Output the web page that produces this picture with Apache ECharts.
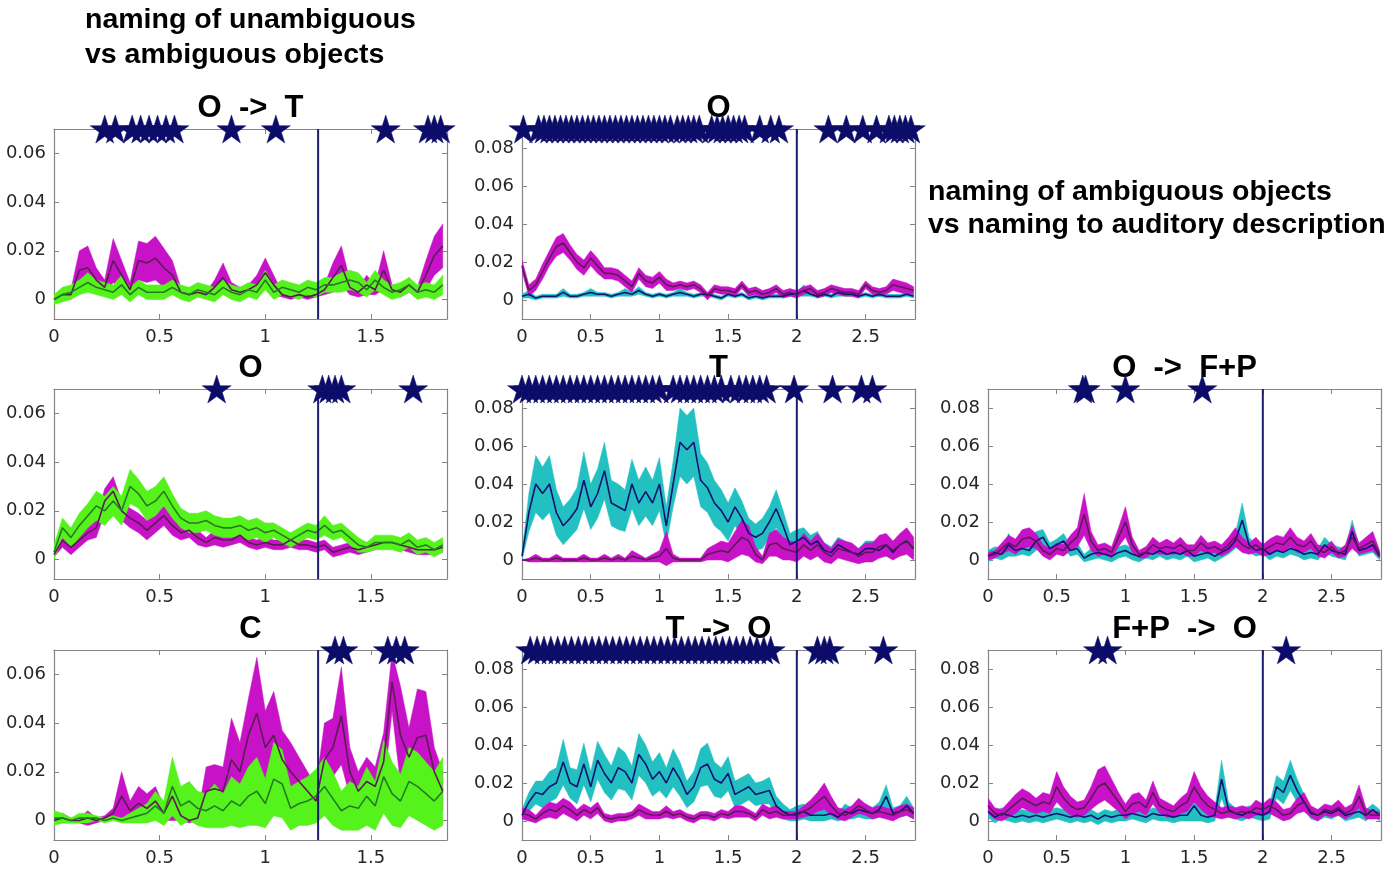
<!DOCTYPE html>
<html>
<head>
<meta charset="utf-8">
<script src="https://cdn.jsdelivr.net/npm/echarts@6/dist/echarts.min.js"></script>
<style>
html, body { margin: 0; padding: 0; background: #fff; }
#chart { width: 1400px; height: 871px; }
</style>
</head>
<body>
<div id="chart"></div>
<script>
// time axes (s)
var timeShort = [0, 0.04, 0.08, 0.12, 0.16, 0.2, 0.24, 0.28, 0.32, 0.36, 0.4, 0.44, 0.48, 0.52, 0.56, 0.6, 0.64, 0.68, 0.72, 0.76,
	0.8, 0.84, 0.88, 0.92, 0.96, 1, 1.04, 1.08, 1.12, 1.16, 1.2, 1.24, 1.28, 1.32, 1.36, 1.4, 1.44, 1.48, 1.52, 1.56,
	1.6, 1.64, 1.68, 1.72, 1.76, 1.8, 1.84];
var timeLong = [0, 0.05, 0.1, 0.15, 0.2, 0.25, 0.3, 0.35, 0.4, 0.45, 0.5, 0.55, 0.6, 0.65, 0.7, 0.75, 0.8, 0.85, 0.9, 0.95,
	1, 1.05, 1.1, 1.15, 1.2, 1.25, 1.3, 1.35, 1.4, 1.45, 1.5, 1.55, 1.6, 1.65, 1.7, 1.75, 1.8, 1.85, 1.9, 1.95,
	2, 2.05, 2.1, 2.15, 2.2, 2.25, 2.3, 2.35, 2.4, 2.45, 2.5, 2.55, 2.6, 2.65, 2.7, 2.75, 2.8, 2.85];

// all values below in thousandths (mean and half width of the band)
// O -> T
var otMag = [0,2,2,12,13,8,5,16,10,4, 16,15,17,13,10,3,2,3,2,5, 9,4,3,4,6,11,6,2,1,2, 1,2,4,9,14,5,3,6,4,12, 4,3,6,3,10,18,22];
var otMagErr = [1,1,2,8,9,5,3,9,6,3, 8,8,9,8,6,2,1,2,1,3, 6,3,2,2,4,6,4,1,1,1, 1,1,2,6,8,3,2,4,2,8, 2,2,3,2,6,8,9];
var otGrn = [0,2,3,5,7,5,4,3,6,2, 5,3,3,3,5,3,2,4,3,2, 5,3,2,4,3,8,3,5,4,3, 5,4,6,6,7,8,7,4,8,5, 3,4,6,3,4,3,6];
var otGrnErr = [2,3,3,3,4,3,3,3,4,3, 3,3,3,3,3,3,3,3,3,3, 3,3,3,3,3,4,3,3,3,3, 3,3,3,3,4,4,4,3,4,3, 3,3,3,3,3,3,4];
var otStars = [0.24, 0.29, 0.37, 0.41, 0.45, 0.49, 0.53, 0.57, 0.84, 1.05, 1.57, 1.77, 1.8, 1.83];

// O (unambiguous vs ambiguous)
var oaMag = [2,8,5,8,11,13,24,28,20,17, 15,12,15,18,14,11,12,9,7,9, 8,8,10,7,6,7,6,6,8,6, 6,5,6,3,4,5,4,5,6,7, 7,6,5,4,4,4,5];
var oaMagErr = [1,3,3,3,3,4,5,6,4,4, 4,4,4,4,4,3,3,3,2,3, 3,2,3,2,2,2,2,2,3,2, 2,2,2,2,2,2,2,2,2,2, 2,2,2,2,2,2,2];
var oaGrn = [3,13,9,14,18,22,20,24,20,30, 27,22,24,28,22,17,15,15,16,14, 13,13,14,12,13,11,12,10,8,10, 12,11,14,11,12,9,6,5,7,7, 7,6,8,5,6,4,6];
var oaGrnErr = [3,4,4,5,5,6,6,6,6,7, 6,6,6,6,5,4,4,4,4,4, 4,4,4,4,4,4,3,3,3,3, 3,3,4,3,3,3,3,2,3,3, 3,3,3,3,3,3,3];
var oaStars = [0.77, 1.27, 1.3, 1.33, 1.36, 1.7];

// C
var cMag = [0,1,0,0,1,0,1,3,10,4, 7,5,8,3,10,2,0,1,12,13, 12,25,20,35,44,30,35,25,20,16, 12,8,25,30,43,20,12,16,14,24, 57,35,26,34,35,20,12];
var cMagErr = [1,2,1,1,3,1,1,2,10,4, 7,6,6,3,10,2,1,1,10,10, 10,17,12,15,23,15,18,12,12,10, 8,6,15,12,20,10,8,10,8,12, 12,20,12,20,18,10,8];
var cGrn = [1,1,0,1,1,1,0,1,0,1, 2,3,6,3,14,6,8,5,4,6, 4,8,6,10,12,7,17,15,5,7, 8,10,14,9,4,6,5,10,6,18, 11,8,16,14,11,8,12];
var cGrnErr = [3,2,1,2,2,1,1,1,1,2, 3,4,6,5,12,8,8,7,7,9, 7,10,9,12,14,10,15,14,9,9, 10,11,12,11,8,10,9,12,10,15, 13,11,14,14,13,12,14];
var cStars = [1.33, 1.37, 1.58, 1.62, 1.66];

// O (ambiguous vs auditory description)
var obMag = [18,5,8,15,22,28,30,25,20,17, 22,18,14,14,13,10,7,14,10,9, 12,8,7,8,7,8,6,2,6,5, 5,4,8,4,5,3,4,6,3,4, 3,5,6,3,4,6,5,4,4,3, 8,5,4,5,8,7,6,5];
var obMagErr = [3,3,3,4,4,5,5,4,4,4, 4,4,3,3,3,3,3,3,3,3, 3,3,2,2,2,2,2,2,2,2, 2,2,2,2,2,2,2,2,2,2, 2,2,2,2,2,2,2,2,2,2, 2,2,2,2,3,3,3,2];
var obCyn = [2,3,1,2,2,2,4,2,2,3, 4,3,3,2,3,4,3,5,3,2, 3,2,3,4,3,2,3,3,2,1, 3,2,3,1,2,1,2,2,2,3, 3,5,3,2,3,2,4,3,3,2, 3,2,3,2,2,2,3,2];
var obCynErr = [1,2,1,1,1,1,2,1,1,1, 2,1,1,1,1,2,1,2,1,1, 1,1,1,2,1,1,1,1,1,1, 1,1,1,1,1,1,1,1,1,1, 1,3,1,1,1,1,2,1,1,1, 1,1,1,1,1,1,1,1];
var obStars = [0.01, 0.12, 0.16, 0.2, 0.24, 0.28, 0.32, 0.36, 0.4, 0.44, 0.48, 0.52, 0.56, 0.6, 0.64, 0.68, 0.72, 0.76, 0.8, 0.84,
	0.88, 0.92, 0.96, 1, 1.04, 1.08, 1.13, 1.17, 1.21, 1.25, 1.29, 1.38, 1.42, 1.46, 1.5, 1.54, 1.58, 1.62, 1.73, 1.81,
	1.87, 2.23, 2.36, 2.48, 2.58, 2.67, 2.71, 2.75, 2.79, 2.83];

// T
var tCyn = [2,25,40,35,40,25,18,22,27,42, 28,35,47,30,28,26,40,30,36,30, 40,18,40,62,58,62,42,38,30,26, 20,28,22,14,12,14,20,27,18,8, 10,12,8,10,5,4,8,6,4,3, 6,6,5,8,4,8,10,6];
var tCynErr = [2,10,15,14,15,12,10,10,11,15, 12,13,15,12,12,11,13,12,13,12, 14,10,12,18,18,18,14,13,12,11, 10,10,9,8,7,8,8,10,8,6, 6,5,5,5,4,3,4,4,3,3, 4,4,4,5,4,4,5,4];
var tMag = [0,0,1,0,0,1,0,0,0,1, 0,0,1,0,1,0,2,1,0,1, 2,6,1,0,0,0,0,3,4,5, 4,8,12,10,3,0,8,9,6,5, 4,8,5,8,4,2,6,5,4,2, 4,4,7,8,5,8,10,6];
var tMagErr = [0,1,2,1,1,2,1,1,1,2, 1,1,2,1,2,1,3,2,1,2, 3,9,2,1,1,1,1,3,4,5, 5,7,9,8,4,2,6,7,6,5, 5,6,5,6,5,4,5,5,5,4, 5,5,6,6,5,6,7,6];
var tStars = [0, 0.05, 0.1, 0.15, 0.2, 0.25, 0.3, 0.35, 0.4, 0.45, 0.5, 0.55, 0.6, 0.65, 0.7, 0.75, 0.8, 0.85, 0.9, 0.95,
	1, 1.1, 1.15, 1.2, 1.25, 1.3, 1.35, 1.4, 1.45, 1.52, 1.58, 1.63, 1.68, 1.73, 1.78, 1.98, 2.26, 2.47, 2.55];

// T -> O
var toCyn = [3,10,15,14,18,20,31,20,18,30, 18,32,25,20,28,26,20,35,30,22, 26,20,28,22,14,18,28,30,22,20, 25,14,16,18,14,15,16,8,5,3, 4,5,3,3,3,4,2,5,4,6, 5,4,6,13,4,5,8,4];
var toCynErr = [3,5,6,7,8,8,12,8,9,11, 8,10,10,9,11,10,9,11,10,9, 10,8,10,9,7,8,10,11,9,8, 9,7,7,7,6,6,7,5,4,3, 4,4,3,3,3,3,2,4,3,4, 4,3,4,6,3,3,5,3];
var toMag = [4,3,1,4,6,5,8,6,3,6, 4,7,2,1,2,2,3,6,4,3, 3,5,3,4,2,1,3,3,2,4, 3,5,5,4,2,6,4,5,3,3, 3,5,7,10,13,8,4,3,5,8, 6,4,5,4,3,5,6,4];
var toMagErr = [3,3,2,3,4,4,4,4,3,3, 3,3,2,2,2,2,2,3,3,2, 2,3,2,2,2,2,2,2,2,2, 2,3,3,2,2,3,3,3,2,2, 2,3,4,5,7,5,3,3,3,4, 3,3,3,3,3,3,3,3];
var toStars = [0.06, 0.11, 0.16, 0.21, 0.26, 0.31, 0.36, 0.41, 0.46, 0.51, 0.56, 0.61, 0.66, 0.71, 0.76, 0.81, 0.86, 0.91, 0.96, 1.01,
	1.06, 1.11, 1.16, 1.21, 1.26, 1.31, 1.36, 1.41, 1.46, 1.51, 1.56, 1.61, 1.66, 1.71, 1.76, 1.81, 2.15, 2.2, 2.24, 2.63];

// O -> F+P
var ofpMag = [2,3,6,9,7,11,12,10,5,3, 6,5,9,12,24,10,5,6,4,12, 20,8,3,4,8,6,7,6,8,5, 5,9,6,7,5,8,12,8,6,8, 5,7,9,8,12,8,7,10,5,4, 7,3,5,12,6,8,10,3];
var ofpMagErr = [2,2,3,4,4,5,5,4,3,3, 3,3,4,5,11,5,3,3,3,5, 8,4,2,3,4,3,4,3,4,3, 3,4,3,3,3,4,5,4,3,4, 3,4,4,4,5,4,3,4,3,3, 3,2,3,6,3,4,5,2];
var ofpCyn = [2,4,3,8,5,6,5,10,12,6, 8,10,5,6,1,3,4,3,2,4, 5,3,2,4,3,5,3,4,3,5, 2,3,4,2,4,6,10,21,8,5, 6,3,5,4,6,5,3,4,3,8, 5,4,3,15,5,6,8,2];
var ofpCynErr = [3,3,3,6,3,3,3,5,4,3, 3,4,3,3,2,3,3,3,3,3, 3,3,3,3,3,3,3,3,3,3, 3,3,3,3,3,3,4,9,4,3, 3,3,3,3,3,3,3,3,3,4, 3,3,3,6,3,3,4,2];
var ofpStars = [0.69, 0.71, 1, 1.56];

// F+P -> O
var fpoMag = [8,4,3,6,9,12,10,8,10,9, 18,12,8,6,7,12,18,20,15,10, 5,9,10,7,15,8,6,5,8,10, 18,12,8,6,4,5,4,5,4,7, 6,8,6,3,4,8,10,5,3,6, 5,7,4,6,13,4,3,3];
var fpoMagErr = [4,3,3,4,5,5,5,4,5,5, 8,6,5,4,4,6,9,9,7,5, 4,5,5,4,6,4,4,3,4,5, 8,6,5,4,3,3,3,3,3,4, 3,4,4,3,3,4,5,3,3,3, 3,4,3,3,6,3,2,2];
var fpoCyn = [5,2,4,3,2,3,2,3,2,3, 4,3,2,3,2,3,1,3,2,3, 3,4,3,2,4,3,3,2,3,3, 8,3,2,3,22,6,4,3,5,4, 3,5,18,15,24,16,10,4,3,5, 4,6,3,4,5,3,6,3];
var fpoCynErr = [3,3,3,3,3,3,3,3,3,3, 3,3,3,3,3,3,3,3,3,3, 3,3,3,3,3,3,3,3,3,3, 8,3,3,3,10,4,3,3,3,3, 3,4,6,6,8,6,4,3,3,3, 3,3,3,3,3,3,3,3];
var fpoStars = [0.8, 0.87, 2.17];

// tick labels
var yTicksShort = [0, 0.02, 0.04, 0.06];
var yTicksLong = [0, 0.02, 0.04, 0.06, 0.08];
var xTicksShort = [0, 0.5, 1, 1.5];
var xTicksLong = [0, 0.5, 1, 1.5, 2, 2.5];

var palette = {
	mag: { fill: '#c812c8', line: '#5a1c52' },
	grn: { fill: '#55f21c', line: '#267a26' },
	cyn: { fill: '#22c0c0', line: '#121272' }
};

var panels = [
	{ title: 'O  ->  T', col: 0, row: 0, short: true, bands: [[otMag, otMagErr, 'mag'], [otGrn, otGrnErr, 'grn']], stars: otStars },
	{ title: 'O', col: 1, row: 0, short: false, bands: [[obCyn, obCynErr, 'cyn'], [obMag, obMagErr, 'mag']], stars: obStars },
	{ title: 'O', col: 0, row: 1, short: true, bands: [[oaMag, oaMagErr, 'mag'], [oaGrn, oaGrnErr, 'grn']], stars: oaStars },
	{ title: 'T', col: 1, row: 1, short: false, bands: [[tCyn, tCynErr, 'cyn'], [tMag, tMagErr, 'mag']], stars: tStars },
	{ title: 'O  ->  F+P', col: 2, row: 1, short: false, bands: [[ofpCyn, ofpCynErr, 'cyn'], [ofpMag, ofpMagErr, 'mag']], stars: ofpStars },
	{ title: 'C', col: 0, row: 2, short: true, bands: [[cMag, cMagErr, 'mag'], [cGrn, cGrnErr, 'grn']], stars: cStars },
	{ title: 'T  ->  O', col: 1, row: 2, short: false, bands: [[toCyn, toCynErr, 'cyn'], [toMag, toMagErr, 'mag']], stars: toStars },
	{ title: 'F+P  ->  O', col: 2, row: 2, short: false, bands: [[fpoCyn, fpoCynErr, 'cyn'], [fpoMag, fpoMagErr, 'mag']], stars: fpoStars }
];

var gridLeft = [54, 522, 988];
var gridTop = [129, 389, 650];
var gridW = 393, gridH = 190;
var starPath = 'path://M50,0 L61.2,34.5 L97.6,34.5 L68.2,55.9 L79.4,90.5 L50,69.1 L20.6,90.5 L31.8,55.9 L2.4,34.5 L38.8,34.5 Z';
var axisGray = '#858585';
var labelFont = 'DejaVu Sans';
var titleFont = 'Liberation Sans';

var grids = [], xAxes = [], yAxes = [], series = [];
var titles = [
	{
		text: 'naming of unambiguous\nvs ambiguous objects',
		left: 85, top: 3, padding: 0,
		textStyle: { fontSize: 28.5, fontWeight: 'bold', fontFamily: titleFont, color: '#000', lineHeight: 35 }
	},
	{
		text: 'naming of ambiguous objects\nvs naming to auditory description',
		left: 928, top: 176, padding: 0,
		textStyle: { fontSize: 28.5, fontWeight: 'bold', fontFamily: titleFont, color: '#000', lineHeight: 33 }
	}
];

function bandRenderer(xs, lo, hi, color) {
	return function(params, api) {
		if (params.dataIndex !== 0) {
			return;
		}
		var pts = [];
		for (var i = 0; i < xs.length; i++) {
			pts.push(api.coord([xs[i], lo[i]]));
		}
		for (var j = xs.length - 1; j >= 0; j--) {
			pts.push(api.coord([xs[j], hi[j]]));
		}
		return {
			type: 'polygon',
			shape: { points: pts },
			style: { fill: color, stroke: color, lineWidth: 0.5 }
		};
	};
}

panels.forEach(function(p, i) {
	var xs = p.short ? timeShort : timeLong;
	var xMax = p.short ? 1.86 : 2.86;
	var yMin = p.short ? -0.008 : -0.01;
	var yMax = p.short ? 0.07 : 0.09;
	var onset = p.short ? 1.25 : 2;
	var xt = p.short ? xTicksShort : xTicksLong;
	var yt = p.short ? yTicksShort : yTicksLong;
	var left = gridLeft[p.col], top = gridTop[p.row];

	grids.push({ left: left, top: top, width: gridW, height: gridH, show: false });

	titles.push({
		text: p.title,
		left: left + gridW / 2,
		top: top - 36,
		textAlign: 'center',
		padding: 0,
		textStyle: { fontSize: 31, fontWeight: 'bold', fontFamily: titleFont, color: '#000', lineHeight: 31 }
	});

	['bottom', 'top'].forEach(function(pos) {
		xAxes.push({
			gridIndex: i,
			type: 'value',
			position: pos,
			min: 0,
			max: xMax,
			axisLine: { show: true, onZero: false, lineStyle: { color: axisGray, width: 1.2 } },
			axisTick: { show: true, inside: true, length: 5, customValues: xt, lineStyle: { color: axisGray } },
			axisLabel: {
				show: pos === 'bottom',
				customValues: xt,
				margin: 9,
				fontSize: 18,
				fontFamily: labelFont,
				color: '#262626'
			},
			splitLine: { show: false }
		});
	});
	['left', 'right'].forEach(function(pos) {
		yAxes.push({
			gridIndex: i,
			type: 'value',
			position: pos,
			min: yMin,
			max: yMax,
			axisLine: { show: true, onZero: false, lineStyle: { color: axisGray, width: 1.2 } },
			axisTick: { show: true, inside: true, length: 5, customValues: yt, lineStyle: { color: axisGray } },
			axisLabel: {
				show: pos === 'left',
				customValues: yt,
				margin: 8,
				fontSize: 18,
				fontFamily: labelFont,
				color: '#262626'
			},
			splitLine: { show: false }
		});
	});

	p.bands.forEach(function(b) {
		var mean = b[0], err = b[1], col = palette[b[2]];
		var lo = [], hi = [], line = [];
		for (var k = 0; k < xs.length; k++) {
			lo.push((mean[k] - err[k]) / 1000);
			hi.push((mean[k] + err[k]) / 1000);
			line.push([xs[k], mean[k] / 1000]);
		}
		series.push({
			type: 'custom',
			xAxisIndex: 2 * i,
			yAxisIndex: 2 * i,
			silent: true,
			clip: true,
			renderItem: bandRenderer(xs, lo, hi, col.fill),
			data: line
		});
		series.push({
			type: 'line',
			xAxisIndex: 2 * i,
			yAxisIndex: 2 * i,
			silent: true,
			symbol: 'none',
			lineStyle: { color: col.line, width: 1.6 },
			data: line
		});
	});

	series.push({
		type: 'line',
		xAxisIndex: 2 * i,
		yAxisIndex: 2 * i,
		silent: true,
		symbol: 'none',
		z: 5,
		lineStyle: { color: '#1c1c6c', width: 2 },
		data: [[onset, yMin], [onset, yMax]]
	});

	series.push({
		type: 'scatter',
		xAxisIndex: 2 * i,
		yAxisIndex: 2 * i,
		silent: true,
		clip: false,
		z: 10,
		symbol: starPath,
		symbolSize: [29, 28],
		itemStyle: { color: '#0b0b69', opacity: 1, borderColor: '#1a1a6e', borderWidth: 0.5 },
		data: p.stars.map(function(x) { return [x, yMax]; })
	});
});

var myChart = echarts.init(document.getElementById('chart'));
myChart.setOption({
	animation: false,
	backgroundColor: '#fff',
	title: titles,
	grid: grids,
	xAxis: xAxes,
	yAxis: yAxes,
	series: series
});
</script>
</body>
</html>
